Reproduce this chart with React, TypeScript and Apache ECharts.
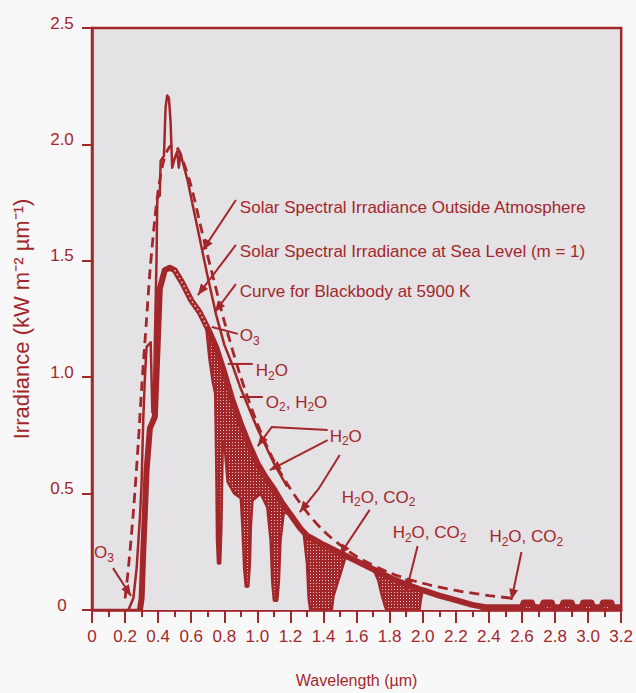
import React, { useEffect, useRef } from 'react';
import * as echarts from 'echarts';

const RED = '#a3272a';
const PLOT_BG = '#e4e2e5';
const PAGE_BG = '#f9f8f9';
const FONT = '"Liberation Sans", Arial, sans-serif';

// wavelength (µm), irradiance (kW m-2 µm-1)
const blackbody: [number, number][] = [
  [0.2, 0.05], [0.22, 0.18], [0.25, 0.42], [0.28, 0.72], [0.3, 0.95], [0.33, 1.25], [0.35, 1.45],
  [0.38, 1.68], [0.4, 1.8], [0.43, 1.92], [0.46, 1.98], [0.49, 2.0], [0.52, 1.98], [0.55, 1.93],
  [0.6, 1.82], [0.65, 1.67], [0.7, 1.52], [0.75, 1.38], [0.8, 1.24], [0.9, 1.0], [1.0, 0.8],
  [1.1, 0.64], [1.2, 0.52], [1.3, 0.42], [1.4, 0.34], [1.5, 0.28], [1.6, 0.23], [1.8, 0.16],
  [2.0, 0.115], [2.2, 0.084], [2.4, 0.062], [2.55, 0.05],
];

const outside: [number, number][] = [
  [0.22, 0.0], [0.25, 0.05], [0.27, 0.18], [0.29, 0.4], [0.3, 0.55], [0.31, 0.82], [0.32, 1.0],
  [0.33, 1.13], [0.355, 1.15], [0.365, 0.85], [0.375, 0.85], [0.38, 1.15], [0.39, 1.5], [0.395, 1.77],
  [0.41, 1.78], [0.415, 1.93], [0.435, 1.95], [0.445, 2.16], [0.455, 2.21], [0.465, 2.2], [0.475, 2.1],
  [0.485, 1.9], [0.5, 1.94], [0.515, 1.97], [0.525, 1.9], [0.535, 1.96], [0.55, 1.92], [0.58, 1.84],
  [0.6, 1.77], [0.65, 1.6], [0.7, 1.43], [0.75, 1.27], [0.8, 1.14], [0.85, 1.05], [0.9, 0.95],
  [1.0, 0.78], [1.1, 0.63], [1.18, 0.53],
];

const seaLevelEnvelope: [number, number][] = [
  [0.29, 0], [0.3, 0.05], [0.31, 0.25], [0.33, 0.6], [0.35, 0.78], [0.38, 0.83], [0.395, 1.1],
  [0.41, 1.38], [0.44, 1.46], [0.47, 1.47], [0.5, 1.46], [0.55, 1.4], [0.6, 1.33], [0.65, 1.28],
  [0.7, 1.21], [0.75, 1.13], [0.8, 1.02], [0.85, 0.9], [0.9, 0.8], [0.95, 0.71], [1.0, 0.63],
  [1.05, 0.57], [1.1, 0.52], [1.15, 0.46], [1.2, 0.41], [1.26, 0.35], [1.3, 0.32], [1.35, 0.3],
  [1.4, 0.28], [1.5, 0.245], [1.6, 0.21], [1.7, 0.175], [1.8, 0.14], [1.9, 0.11], [2.0, 0.085],
  [2.1, 0.062], [2.2, 0.042], [2.3, 0.022], [2.38, 0.012], [2.6, 0.012], [2.61, 0.032], [2.66, 0.032],
  [2.67, 0.012], [2.72, 0.012], [2.73, 0.032], [2.78, 0.032], [2.79, 0.012], [2.84, 0.012], [2.85, 0.032],
  [2.9, 0.032], [2.91, 0.012], [2.96, 0.012], [2.97, 0.032], [3.02, 0.032], [3.03, 0.012], [3.08, 0.012],
  [3.09, 0.032], [3.14, 0.032], [3.15, 0.012], [3.2, 0.012],
];

const seaLevelActual: [number, number][] = [
  [0.29, 0], [0.3, 0.05], [0.31, 0.25], [0.33, 0.6], [0.35, 0.78], [0.38, 0.83], [0.395, 1.1],
  [0.41, 1.38], [0.44, 1.46], [0.47, 1.47], [0.5, 1.46], [0.55, 1.4], [0.6, 1.33], [0.65, 1.28],
  [0.69, 1.22], [0.71, 1.08], [0.73, 0.98], [0.745, 0.93], [0.752, 0.6], [0.756, 0.3], [0.762, 0.2],
  [0.775, 0.2], [0.782, 0.35], [0.79, 0.7], [0.8, 0.72], [0.82, 0.55], [0.86, 0.5],
  [0.9, 0.48], [0.91, 0.35], [0.92, 0.18], [0.93, 0.1], [0.945, 0.1], [0.955, 0.2], [0.96, 0.35],
  [0.97, 0.47], [1.02, 0.5], [1.06, 0.44], [1.08, 0.3], [1.09, 0.12], [1.1, 0.04], [1.12, 0.04],
  [1.13, 0.12], [1.14, 0.3], [1.16, 0.42], [1.2, 0.41], [1.26, 0.35], [1.28, 0.33], [1.3, 0.2],
  [1.31, 0.05], [1.32, 0.0], [1.45, 0.0], [1.46, 0.06], [1.5, 0.15], [1.53, 0.22], [1.55, 0.235],
  [1.6, 0.21], [1.7, 0.175], [1.73, 0.13], [1.75, 0.07], [1.77, 0.02], [1.78, 0.0], [1.98, 0.0],
  [1.99, 0.05], [2.0, 0.085], [2.1, 0.062], [2.2, 0.042], [2.3, 0.022], [2.38, 0.0], [3.2, 0.0],
];

type Note = { text: string; at: [number, number]; lines: [number, number][][]; arrow: boolean };

const notes: Note[] = [
  { text: 'Solar Spectral Irradiance Outside Atmosphere', at: [0.894, 1.727], lines: [[[0.87, 1.761], [0.67, 1.546]]], arrow: true },
  { text: 'Solar Spectral Irradiance at Sea Level (m = 1)', at: [0.894, 1.538], lines: [[[0.87, 1.568], [0.64, 1.353]]], arrow: true },
  { text: 'Curve for Blackbody at 5900 K', at: [0.894, 1.366], lines: [[[0.87, 1.4], [0.743, 1.28]]], arrow: true },
  { text: 'O₃', at: [0.894, 1.177], lines: [[[0.725, 1.216], [0.882, 1.186]]], arrow: false },
  { text: 'H₂O', at: [0.99, 1.027], lines: [[[0.821, 1.057], [0.972, 1.057]]], arrow: false },
  { text: 'O₂, H₂O', at: [1.051, 0.893], lines: [[[0.894, 0.915], [1.033, 0.915]]], arrow: false },
  {
    text: 'H₂O', at: [1.437, 0.747],
    lines: [
      [[1.425, 0.773], [1.087, 0.786], [1.002, 0.704]],
      [[1.425, 0.73], [1.075, 0.601]],
      [[1.498, 0.666], [1.37, 0.52], [1.256, 0.42]],
    ],
    arrow: true,
  },
  { text: 'H₂O, CO₂', at: [1.51, 0.485], lines: [[[1.679, 0.43], [1.498, 0.236]]], arrow: true },
  { text: 'H₂O, CO₂', at: [1.818, 0.331], lines: [[[1.969, 0.275], [1.902, 0.086]]], arrow: true },
  { text: 'H₂O, CO₂', at: [2.403, 0.314], lines: [[[2.597, 0.249], [2.536, 0.043]]], arrow: true },
  { text: 'O₃', at: [0.012, 0.245], lines: [[[0.127, 0.18], [0.236, 0.06]]], arrow: true },
];

const fmt = (v: number) => (v === 0 ? '0' : v.toFixed(1));

// "H₂O" -> rich text with real subscripts
const toRich = (s: string) =>
  s.replace(/[^₀-₉]+/g, (m) => `{n|${m}}`).replace(/[₀-₉]/g, (c) => `{s|${c.charCodeAt(0) - 0x2080}}`);

export default function App() {
  const ref = useRef<HTMLDivElement>(null);

  useEffect(() => {
    document.body.style.margin = '0';
    document.body.style.background = PAGE_BG;
    const chart = echarts.init(ref.current!, null, { renderer: 'svg' });

    const pc = document.createElement('canvas');
    pc.width = 3;
    pc.height = 3;
    const g = pc.getContext('2d')!;
    g.fillStyle = RED;
    g.fillRect(0, 0, 3, 3);
    g.fillStyle = '#f0cdc6';
    g.fillRect(1, 1, 1, 1);

    const bandDots = seaLevelEnvelope.filter((p) => p[0] >= 0.5 && p[0] <= 0.72);

    chart.setOption({
      animation: false,
      backgroundColor: PAGE_BG,
      grid: {
        left: 92, right: 14, top: 28, bottom: 83,
        show: true, backgroundColor: PLOT_BG, borderColor: RED, borderWidth: 2.5,
      },
      xAxis: {
        type: 'value', min: 0, max: 3.2, interval: 0.2,
        name: 'Wavelength (µm)', nameLocation: 'middle', nameGap: 62,
        nameTextStyle: { color: RED, fontSize: 16, fontFamily: FONT },
        axisLine: { show: true, lineStyle: { color: RED, width: 2.5 } },
        axisTick: { show: true, length: 13, lineStyle: { color: RED, width: 2 } },
        minorTick: { show: true, splitNumber: 2, length: 7, lineStyle: { color: RED, width: 2 } },
        splitLine: { show: false },
        axisLabel: { color: RED, fontSize: 17, fontFamily: FONT, margin: 18, formatter: fmt },
      },
      yAxis: {
        type: 'value', min: 0, max: 2.5, interval: 0.5,
        name: 'Irradiance (kW m⁻² µm⁻¹)', nameLocation: 'middle', nameGap: 60, nameRotate: 90,
        nameTextStyle: { color: RED, fontSize: 22, fontFamily: FONT },
        axisLine: { show: true, lineStyle: { color: RED, width: 2.5 } },
        axisTick: { show: true, length: 10, lineStyle: { color: RED, width: 2 } },
        splitLine: { show: false },
        axisLabel: {
          color: RED, fontSize: 17, fontFamily: FONT, margin: 30, align: 'center',
          verticalAlign: 'bottom', lineHeight: 10, formatter: fmt,
        },
      },
      series: [
        {
          name: 'bandArea', type: 'line', data: seaLevelEnvelope, symbol: 'none', silent: true, z: 2,
          lineStyle: { width: 0 }, areaStyle: { color: { image: pc, repeat: 'repeat' }, opacity: 1 },
        },
        {
          name: 'clearArea', type: 'line', data: seaLevelActual, symbol: 'none', silent: true, z: 3,
          lineStyle: { width: 0 }, areaStyle: { color: PLOT_BG, opacity: 1 },
        },
        {
          name: 'Sea level (absorbed)', type: 'line', data: seaLevelActual, symbol: 'none', silent: true, z: 4,
          lineStyle: { color: RED, width: 2.5 },
        },
        {
          name: 'Sea level', type: 'line', data: seaLevelEnvelope, symbol: 'none', silent: true, z: 5,
          lineStyle: { color: RED, width: 6, join: 'round' },
        },
        {
          name: 'band dots', type: 'line', data: bandDots, symbol: 'none', silent: true, z: 6,
          lineStyle: { color: '#f0cdc6', width: 1.5, type: [1.5, 3] },
        },
        {
          name: 'Outside Atmosphere', type: 'line', data: outside, symbol: 'none', silent: true, z: 7,
          lineStyle: { color: RED, width: 2.5, join: 'round' },
        },
        {
          name: 'Blackbody 5900 K', type: 'line', data: blackbody, symbol: 'none', silent: true, z: 8,
          smooth: 0.3, lineStyle: { color: RED, width: 2.8, type: [10, 6] },
        },
      ],
    });

    const toPx = (p: [number, number]) => chart.convertToPixel({ gridIndex: 0 }, p) as number[];
    const elements: any[] = [];
    notes.forEach((n) => {
      const t = toPx(n.at);
      elements.push({
        type: 'text', x: t[0], y: t[1], z: 20, silent: true,
        style: {
          text: toRich(n.text), fill: RED, font: `17px ${FONT}`,
          align: 'left', verticalAlign: 'middle', textAlign: 'left', textVerticalAlign: 'middle',
          rich: {
            n: { fill: RED, color: RED, fontSize: 17, fontFamily: FONT, lineHeight: 20 },
            s: { fill: RED, color: RED, fontSize: 12, fontFamily: FONT, padding: [10, 0, 0, 0] },
          },
        },
      });
      n.lines.forEach((ln) => {
        const pts = ln.map(toPx);
        elements.push({
          type: 'polyline', z: 20, silent: true,
          shape: { points: pts },
          style: { stroke: RED, lineWidth: 2, fill: null },
        });
        if (n.arrow) {
          const e = pts[pts.length - 1];
          const s = pts[pts.length - 2];
          const dx = e[0] - s[0];
          const dy = e[1] - s[1];
          const L = Math.hypot(dx, dy) || 1;
          const ux = dx / L;
          const uy = dy / L;
          const bx = e[0] - ux * 11;
          const by = e[1] - uy * 11;
          elements.push({
            type: 'polygon', z: 20, silent: true,
            shape: { points: [[e[0], e[1]], [bx - uy * 4.5, by + ux * 4.5], [bx + uy * 4.5, by - ux * 4.5]] },
            style: { fill: RED },
          });
        }
      });
    });
    chart.setOption({ graphic: elements });

    return () => chart.dispose();
  }, []);

  return <div ref={ref} style={{ width: 636, height: 693 }} />;
}
